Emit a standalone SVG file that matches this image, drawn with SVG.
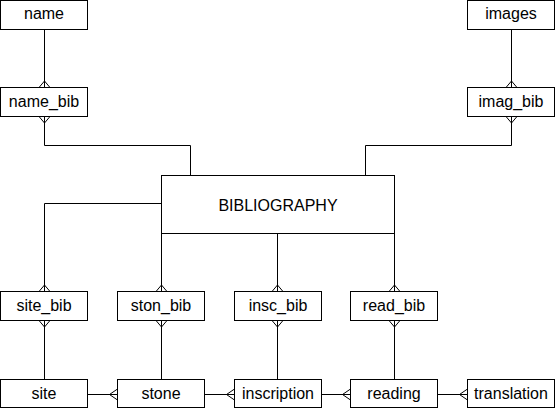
<svg xmlns="http://www.w3.org/2000/svg" width="556" height="409" viewBox="0 0 556 409">
<style>
rect{fill:#fff;stroke:#000;stroke-width:1}
text{font-family:"Liberation Sans",Arial,sans-serif;font-size:16px;fill:#000;text-anchor:middle}
.c line,.c polyline{fill:none;stroke:#000;stroke-width:1}
</style>
<rect x="0" y="0" width="556" height="409" style="stroke:none"/>
<g class="c" id="connectors">
<line x1="44.5" y1="29.5" x2="44.5" y2="87.5"/>
<line x1="511.5" y1="29.5" x2="511.5" y2="87.5"/>
<polyline points="44.5,116.5 44.5,145.5 190.5,145.5 190.5,175.5"/>
<polyline points="511.5,116.5 511.5,145.5 365.5,145.5 365.5,175.5"/>
<polyline points="161.5,203.5 44.5,203.5 44.5,291.5"/>
<line x1="161.5" y1="233.5" x2="161.5" y2="291.5"/>
<line x1="277.5" y1="233.5" x2="277.5" y2="291.5"/>
<line x1="394.5" y1="233.5" x2="394.5" y2="291.5"/>
<line x1="44.5" y1="320.5" x2="44.5" y2="379.5"/>
<line x1="161.5" y1="320.5" x2="161.5" y2="379.5"/>
<line x1="277.5" y1="320.5" x2="277.5" y2="379.5"/>
<line x1="394.5" y1="320.5" x2="394.5" y2="379.5"/>
<line x1="87.5" y1="394.5" x2="117.5" y2="394.5"/>
<line x1="204.5" y1="394.5" x2="234.5" y2="394.5"/>
<line x1="321.5" y1="394.5" x2="350.5" y2="394.5"/>
<line x1="437.5" y1="394.5" x2="467.5" y2="394.5"/>
<polyline points="39,87.5 44.5,81 50,87.5"/>
<polyline points="39,116.5 44.5,123 50,116.5"/>
<polyline points="506,87.5 511.5,81 517,87.5"/>
<polyline points="506,116.5 511.5,123 517,116.5"/>
<polyline points="39,291.5 44.5,285 50,291.5"/>
<polyline points="39,320.5 44.5,327 50,320.5"/>
<polyline points="156,291.5 161.5,285 167,291.5"/>
<polyline points="156,320.5 161.5,327 167,320.5"/>
<polyline points="272,291.5 277.5,285 283,291.5"/>
<polyline points="272,320.5 277.5,327 283,320.5"/>
<polyline points="389,291.5 394.5,285 400,291.5"/>
<polyline points="389,320.5 394.5,327 400,320.5"/>
<polyline points="117.5,389 109.5,394.5 117.5,400"/>
<polyline points="234.5,389 226.5,394.5 234.5,400"/>
<polyline points="350.5,389 342.5,394.5 350.5,400"/>
<polyline points="467.5,389 459.5,394.5 467.5,400"/>
</g>
<g id="name"><rect x="0.5" y="0.5" width="87" height="29"/><text x="44" y="19">name</text></g>
<g id="images"><rect x="467.5" y="0.5" width="87" height="29"/><text x="511" y="19">images</text></g>
<g id="name_bib"><rect x="0.5" y="87.5" width="87" height="29"/><text x="44" y="107">name_bib</text></g>
<g id="imag_bib"><rect x="467.5" y="87.5" width="87" height="29"/><text x="511" y="107">imag_bib</text></g>
<g id="bibliography"><rect x="161.5" y="175.5" width="233" height="58"/><text x="278" y="211">BIBLIOGRAPHY</text></g>
<g id="site_bib"><rect x="0.5" y="291.5" width="87" height="29"/><text x="44" y="311">site_bib</text></g>
<g id="ston_bib"><rect x="117.5" y="291.5" width="87" height="29"/><text x="161" y="311">ston_bib</text></g>
<g id="insc_bib"><rect x="234.5" y="291.5" width="87" height="29"/><text x="278" y="311">insc_bib</text></g>
<g id="read_bib"><rect x="350.5" y="291.5" width="87" height="29"/><text x="394" y="311">read_bib</text></g>
<g id="site"><rect x="0.5" y="379.5" width="87" height="28"/><text x="44" y="399">site</text></g>
<g id="stone"><rect x="117.5" y="379.5" width="87" height="28"/><text x="161" y="399">stone</text></g>
<g id="inscription"><rect x="234.5" y="379.5" width="87" height="28"/><text x="278" y="399">inscription</text></g>
<g id="reading"><rect x="350.5" y="379.5" width="87" height="28"/><text x="394" y="399">reading</text></g>
<g id="translation"><rect x="467.5" y="379.5" width="87" height="28"/><text x="511" y="399">translation</text></g>
</svg>
